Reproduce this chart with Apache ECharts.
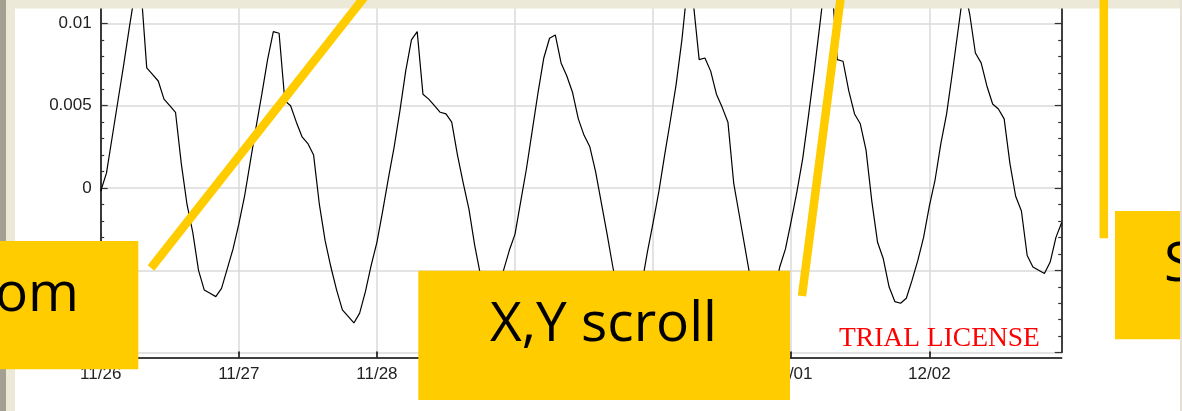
<!DOCTYPE html>
<html>
<head>
<meta charset="utf-8">
<style>
html, body { margin: 0; padding: 0; background: #fff; }
#chart { width: 1182px; height: 411px; }
</style>
<script src="https://cdn.jsdelivr.net/npm/echarts@6/dist/echarts.min.js"></script>
</head>
<body>
<div id="chart"></div>
<script>
// hourly values, one array per day (00:00 .. 23:00)
var dayLabels = ['11/26', '11/27', '11/28', '11/29', '11/30', '12/01', '12/02'];
var day1 = [-0.0002, 0.0009, 0.0031, 0.0053, 0.0075, 0.0098, 0.0120, 0.0121, 0.0073, 0.0069, 0.0065, 0.0054, 0.0050, 0.0046, 0.0015, -0.0010, -0.0027, -0.0050, -0.0062, -0.0064, -0.0066, -0.0061, -0.0049, -0.0037];
var day2 = [-0.0022, -0.0005, 0.0016, 0.0037, 0.0057, 0.0078, 0.0095, 0.0094, 0.0053, 0.0050, 0.0040, 0.0031, 0.0027, 0.0020, -0.0010, -0.0032, -0.0048, -0.0062, -0.0074, -0.0078, -0.0082, -0.0076, -0.0063, -0.0047];
var day3 = [-0.0033, -0.0014, 0.0006, 0.0025, 0.0047, 0.0071, 0.0090, 0.0095, 0.0057, 0.0054, 0.0050, 0.0046, 0.0045, 0.0040, 0.0020, 0.0003, -0.0013, -0.0035, -0.0053, -0.0068, -0.0075, -0.0063, -0.0050, -0.0038];
var day4 = [-0.0028, -0.0008, 0.0012, 0.0035, 0.0058, 0.0079, 0.0091, 0.0093, 0.0076, 0.0068, 0.0058, 0.0042, 0.0032, 0.0025, 0.0010, -0.0009, -0.0028, -0.0048, -0.0066, -0.0078, -0.0084, -0.0077, -0.0059, -0.0039];
var day5 = [-0.0021, -0.0002, 0.0020, 0.0041, 0.0063, 0.0090, 0.0124, 0.0112, 0.0078, 0.0079, 0.0071, 0.0057, 0.0049, 0.0040, 0.0003, -0.0017, -0.0037, -0.0057, -0.0073, -0.0084, -0.0082, -0.0064, -0.0048, -0.0037];
var day6 = [-0.0020, -0.0002, 0.0018, 0.0044, 0.0071, 0.0100, 0.0130, 0.0127, 0.0078, 0.0077, 0.0059, 0.0045, 0.0039, 0.0023, -0.0008, -0.0033, -0.0043, -0.0060, -0.0069, -0.0070, -0.0067, -0.0056, -0.0044, -0.0030];
var day7 = [-0.0011, 0.0005, 0.0027, 0.0045, 0.0070, 0.0096, 0.0122, 0.0106, 0.0082, 0.0076, 0.0062, 0.0051, 0.0048, 0.0042, 0.0015, -0.0005, -0.0014, -0.0041, -0.0048, -0.0050, -0.0052, -0.0045, -0.0030, -0.0021];

var yMin = -0.01, yMax = 0.015, yStep = 0.005;

var days = [day1, day2, day3, day4, day5, day6, day7];
var hours = [], values = [];
days.forEach(function (d, i) {
    d.forEach(function (v, h) {
        hours.push(dayLabels[i] + ' ' + (h < 10 ? '0' : '') + h + ':00');
        values.push(v);
    });
});

function everyDay(index) {
    return index % 24 === 0;
}

var yellow = '#FFCC00';
var beige = '#ECE9D8';

function valueAxis(pos) {
    return {
        type: 'value',
        position: pos,
        min: yMin,
        max: yMax,
        interval: yStep,
        axisLine: { show: true, onZero: false, lineStyle: { color: '#000', width: 1.5 } },
        axisTick: { show: true, inside: true, length: 7, lineStyle: { color: '#333', width: 1.2 } },
        minorTick: { show: true, splitNumber: 5, length: 3.5, lineStyle: { color: '#333', width: 1.2 } },
        axisLabel: {
            show: pos === 'left',
            margin: 9,
            color: '#222',
            fontSize: 17,
            fontFamily: 'Liberation Sans, Arial, sans-serif'
        },
        splitLine: { show: pos === 'left', lineStyle: { color: '#dadada', width: 1.5 } }
    };
}

var chart = echarts.init(document.getElementById('chart'));
chart.setOption({
    animation: false,
    backgroundColor: '#fff',
    grid: {
        left: 100.7,
        right: 120.3,
        top: -58.9,
        height: 411.5,
        containLabel: false,
        outerBoundsMode: 'none'
    },
    xAxis: {
        type: 'category',
        data: hours,
        boundaryGap: false,
        offset: 5,
        axisLine: { onZero: false, lineStyle: { color: '#000', width: 1.5 } },
        axisTick: { inside: true, length: 6, interval: everyDay, lineStyle: { color: '#000', width: 1.5 } },
        axisLabel: {
            interval: everyDay,
            margin: 8,
            color: '#222',
            fontSize: 17,
            fontFamily: 'Liberation Sans, Arial, sans-serif',
            formatter: function (v) { return v.split(' ')[0]; }
        },
        splitLine: { show: true, interval: everyDay, lineStyle: { color: '#dadada', width: 1.5 } }
    },
    yAxis: [valueAxis('left'), valueAxis('right')],
    series: [{
        type: 'line',
        data: values,
        yAxisIndex: 0,
        symbol: 'none',
        showSymbol: false,
        silent: true,
        lineStyle: { color: '#000', width: 1.2 }
    }],
    graphic: [
        // slide frame
        { type: 'rect', z: 50, shape: { x: 0, y: 0, width: 1182, height: 8.5 }, style: { fill: beige } },
        { type: 'rect', z: 50, shape: { x: 0, y: 0, width: 15, height: 411 }, style: { fill: beige } },
        { type: 'rect', z: 51, shape: { x: 0, y: 0, width: 6, height: 411 }, style: { fill: '#A3A092' } },
        // watermark
        { type: 'text', z: 40, style: { text: 'TRIAL LICENSE', x: 839, y: 339, align: 'left', textAlign: 'left', verticalAlign: 'middle', textVerticalAlign: 'middle', font: '27.5px "Liberation Serif", serif', fill: '#FF0000' } },
        // callout lines
        { type: 'line', z: 60, shape: { x1: 151, y1: 268, x2: 366, y2: -5 }, style: { stroke: yellow, lineWidth: 8.5, lineCap: 'butt' } },
        { type: 'line', z: 60, shape: { x1: 802, y1: 296, x2: 841, y2: -5 }, style: { stroke: yellow, lineWidth: 8.5, lineCap: 'butt' } },
        { type: 'line', z: 60, shape: { x1: 1103.8, y1: -5, x2: 1103.8, y2: 238.3 }, style: { stroke: yellow, lineWidth: 8.5, lineCap: 'butt' } },
        // callout boxes
        { type: 'rect', z: 70, shape: { x: 0, y: 241, width: 138.3, height: 128.3 }, style: { fill: yellow } },
        { type: 'rect', z: 70, shape: { x: 418.3, y: 270.7, width: 371.7, height: 129.3 }, style: { fill: yellow } },
        { type: 'rect', z: 70, shape: { x: 1115, y: 211, width: 70, height: 128.3 }, style: { fill: yellow } },
        { type: 'text', z: 71, style: { text: 'Zoom', x: 79, y: 295, align: 'right', textAlign: 'right', verticalAlign: 'middle', textVerticalAlign: 'middle', font: '55px "Open Sans", sans-serif', fill: '#000' } },
        { type: 'text', z: 71, style: { text: 'X,Y scroll', x: 603.5, y: 325, align: 'center', textAlign: 'center', verticalAlign: 'middle', textVerticalAlign: 'middle', font: '55px "Open Sans", sans-serif', fill: '#000' } },
        { type: 'text', z: 71, style: { text: 'Scale', x: 1164, y: 265, align: 'left', textAlign: 'left', verticalAlign: 'middle', textVerticalAlign: 'middle', font: '55px "Open Sans", sans-serif', fill: '#000' } },
        { type: 'rect', z: 80, shape: { x: 1180, y: 0, width: 2, height: 411 }, style: { fill: '#E4E1D4' } }
    ]
});
</script>
</body>
</html>
